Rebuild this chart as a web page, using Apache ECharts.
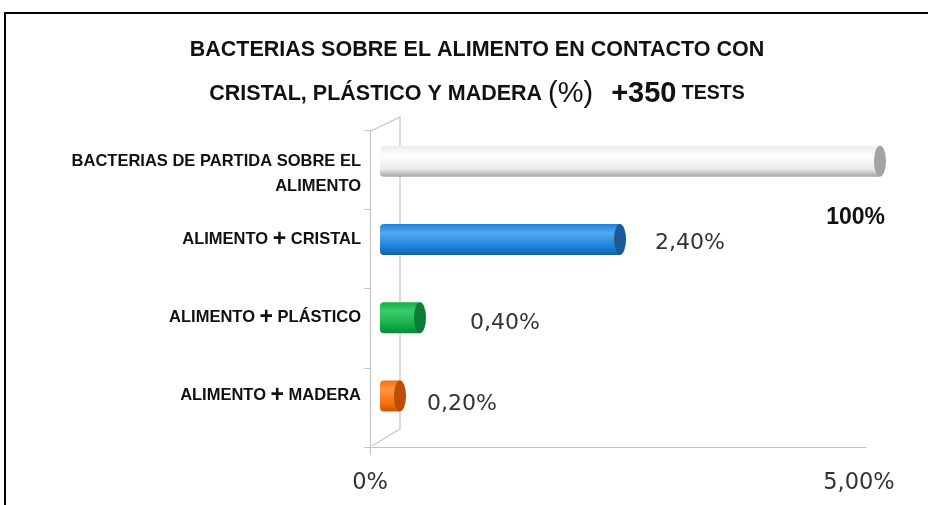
<!DOCTYPE html>
<html>
<head>
<meta charset="utf-8">
<script src="https://cdn.jsdelivr.net/npm/echarts@6/dist/echarts.min.js"></script>
<style>
  html, body { margin: 0; padding: 0; background: #fff; }
  #main { width: 928px; height: 505px; }
</style>
</head>
<body>
<div id="main"></div>
<script>
// datos
var categorias = ['BACTERIAS DE PARTIDA SOBRE EL\nALIMENTO', 'ALIMENTO + CRISTAL', 'ALIMENTO + PLÁSTICO', 'ALIMENTO + MADERA'];
var valores = [100, 2.4, 0.4, 0.2];
var etiquetas = ['100%', '2,40%', '0,40%', '0,20%'];
var ejeValores = [0, 5];
var ejeEtiquetas = ['0%', '5,00%'];
var ejeMax = 5;

// colores del cilindro: [brillo, medio, abajo, tapa]
var colores = [
    ['#fdfdfd', '#ebebeb', '#a6a6a6', '#a3a3a3'],
    ['#52a8f0', '#1f80d8', '#125ea9', '#1a5a98'],
    ['#3acc6c', '#13ad48', '#0a8836', '#0b7d34'],
    ['#ff9444', '#f86e0c', '#cc5400', '#bd4d00']
];

function degradado(c) {
    return new echarts.graphic.LinearGradient(0, 0, 0, 1, [
        { offset: 0, color: c[1] },
        { offset: 0.3, color: c[0] },
        { offset: 0.75, color: c[1] },
        { offset: 1, color: c[2] }
    ]);
}

var myChart = echarts.init(document.getElementById('main'));

var fuenteEje = 'Liberation Sans, Arial, sans-serif';

var barData = valores.map(function (v, i) {
    var item = { value: v, itemStyle: { color: degradado(colores[i]) } };
    if (i === 0) {
        item.label = {
            show: true, position: ['100%', '100%'], align: 'right', verticalAlign: 'middle',
            offset: [5, 41], fontFamily: fuenteEje, fontWeight: 'bold', fontSize: 23, color: '#111'
        };
    } else {
        var dist = [0, 35, 50, 27][i];
        var dy = [0, 4, 6, 8][i];
        item.label = { show: true, position: 'right', distance: dist, offset: [0, dy] };
    }
    return item;
});

var tapaData = valores.map(function (v, i) {
    return { value: Math.min(v, ejeMax), itemStyle: { color: colores[i][3] } };
});

var option = {
    animation: false,
    title: {
        text: '{a|BACTERIAS SOBRE EL ALIMENTO EN CONTACTO CON}\n{a|CRISTAL, PLÁSTICO Y MADERA }{b|(%)}{a|   }{c|+350}{d| TESTS}',
        left: 472,
        textAlign: 'center',
        top: 23,
        textStyle: {
            lineHeight: 44,
            rich: {
                a: { fontFamily: fuenteEje, fontWeight: 'bold', fontSize: 21.5, color: '#111', lineHeight: 44 },
                b: { fontFamily: fuenteEje, fontWeight: 'normal', fontSize: 29, color: '#111', lineHeight: 44 },
                c: { fontFamily: fuenteEje, fontWeight: 'bold', fontSize: 29, color: '#111', lineHeight: 44 },
                d: { fontFamily: fuenteEje, fontWeight: 'bold', fontSize: 19.5, color: '#111', lineHeight: 44 }
            }
        }
    },
    graphic: [
        // marco
        { type: 'line', shape: { x1: 4, y1: 13, x2: 928, y2: 13 }, style: { stroke: '#000', lineWidth: 2 } },
        { type: 'line', shape: { x1: 5, y1: 13, x2: 5, y2: 505 }, style: { stroke: '#000', lineWidth: 2 } },
        // pared del fondo
        { type: 'polyline', z: 0, shape: { points: [[371, 131], [400, 117], [400, 429], [372, 446]] },
          style: { stroke: '#c4c4c4', lineWidth: 1.2, fill: null } }
    ],
    grid: [
        { left: 370, right: 62, top: 130, bottom: 58 },
        { left: 380, right: 48, top: 122, bottom: 70 }
    ],
    xAxis: [
        {
            gridIndex: 0, type: 'value', min: 0, max: ejeMax, interval: ejeMax,
            axisLine: { show: true, lineStyle: { color: '#c4c4c4', width: 1.2 } },
            axisTick: { show: true, length: 8, customValues: [0], lineStyle: { color: '#c4c4c4' } },
            splitLine: { show: false },
            axisLabel: {
                margin: 25, fontFamily: 'DejaVu Sans', fontSize: 22.5, color: '#333',
                formatter: function (v) {
                    var i = ejeValores.indexOf(v);
                    return i === ejeValores.length - 1 ? '{r|' + ejeEtiquetas[i] + '}' : ejeEtiquetas[i];
                },
                rich: { r: { fontFamily: 'DejaVu Sans', fontSize: 22.5, color: '#333', padding: [0, 14, 0, 0] } }
            }
        },
        { gridIndex: 1, type: 'value', min: 0, max: ejeMax, show: false }
    ],
    yAxis: [
        {
            gridIndex: 0, type: 'category', data: categorias, inverse: true,
            axisLine: { show: true, lineStyle: { color: '#c4c4c4', width: 1.2 } },
            axisTick: { show: true, length: 6, lineStyle: { color: '#c4c4c4' } },
            axisLabel: { show: false }
        },
        {
            gridIndex: 1, type: 'category', inverse: true,
            data: categorias.map(function (c, i) {
                return i === 0 ? { value: c, textStyle: { padding: [26, 0, 0, 0] } } : c;
            }),
            axisLine: { show: false }, axisTick: { show: false },
            axisLabel: {
                margin: 19, lineHeight: 25, align: 'right',
                formatter: function (v) {
                    return v.split('\n').map(function (l) {
                        return l.split(' + ').map(function (p) { return '{t|' + p + '}'; }).join('{t| }{p|+}{t| }');
                    }).join('\n');
                },
                rich: {
                    t: { fontFamily: fuenteEje, fontWeight: 'bold', fontSize: 16.5, color: '#111', lineHeight: 25 },
                    p: { fontFamily: fuenteEje, fontWeight: 'bold', fontSize: 23, color: '#111', lineHeight: 25 }
                }
            }
        }
    ],
    series: [
        {
            type: 'bar', xAxisIndex: 1, yAxisIndex: 1, barWidth: 31, clip: true, z: 3,
            itemStyle: { borderRadius: [4, 0, 0, 4] },
            label: {
                show: true, fontFamily: 'DejaVu Sans', fontSize: 22, color: '#333',
                formatter: function (p) { return etiquetas[p.dataIndex]; }
            },
            data: barData
        },
        {
            type: 'pictorialBar', xAxisIndex: 1, yAxisIndex: 1, z: 4,
            symbol: 'circle', symbolSize: [12, 31], symbolPosition: 'end', symbolOffset: ['50%', 0],
            data: tapaData
        }
    ]
};
myChart.setOption(option);
window.onresize = myChart.resize;
</script>
</body>
</html>
